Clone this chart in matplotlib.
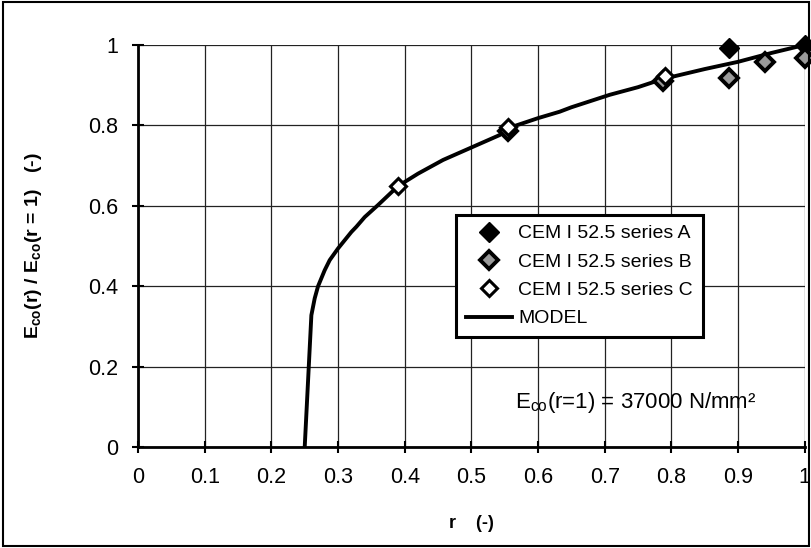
import matplotlib
matplotlib.use("Agg")
import matplotlib.pyplot as plt
from matplotlib.patches import Rectangle

plt.rcParams['font.family'] = ['Liberation Sans', 'DejaVu Sans']
plt.rcParams['mathtext.fontset'] = 'custom'
plt.rcParams['mathtext.rm'] = 'Liberation Sans'
plt.rcParams['mathtext.bf'] = 'Liberation Sans:bold'

# measured stiffness ratios
r_a = [0.887, 1.0]
e_a = [0.993, 1.0]
r_b = [0.555, 0.787, 0.887, 0.94, 1.0]
e_b = [0.785, 0.910, 0.917, 0.958, 0.967]
r_c = [0.39, 0.555, 0.79]
e_c = [0.649, 0.797, 0.922]

# model curve
r_model = [0.25, 0.26, 0.265, 0.27, 0.28, 0.2875, 0.30, 0.32, 0.3275, 0.34, 0.36,
           0.39, 0.42, 0.4575, 0.50, 0.5425, 0.555, 0.60, 0.6325, 0.65, 0.7075,
           0.75, 0.7865, 0.85, 0.90, 0.95, 1.0]
e_model = [0.0, 0.328, 0.37, 0.40, 0.44, 0.465, 0.494, 0.535, 0.548, 0.572, 0.602,
           0.649, 0.68, 0.714, 0.745, 0.776, 0.793, 0.818, 0.834, 0.845, 0.876,
           0.895, 0.915, 0.94, 0.958, 0.98, 1.0]

x_ticks = [0, 0.1, 0.2, 0.3, 0.4, 0.5, 0.6, 0.7, 0.8, 0.9, 1]
x_labels = ['0', '0.1', '0.2', '0.3', '0.4', '0.5', '0.6', '0.7', '0.8', '0.9', '1']
y_ticks = [0, 0.2, 0.4, 0.6, 0.8, 1]
y_labels = ['0', '0.2', '0.4', '0.6', '0.8', '1']

fig = plt.figure(figsize=(8.12, 5.48), dpi=100)
ax = fig.add_axes([0.170, 0.184, 0.821, 0.734])

ax.plot(r_a, e_a, linestyle='none', marker='D', markersize=10, color='black',
        markeredgecolor='black', clip_on=False, zorder=4, label='CEM I 52.5 series A')
ax.plot(r_b, e_b, linestyle='none', marker='D', markersize=9.5, markerfacecolor='#9a9a9a',
        markeredgecolor='black', markeredgewidth=2.8, clip_on=False, zorder=4,
        label='CEM I 52.5 series B')
ax.plot(r_c, e_c, linestyle='none', marker='D', markersize=8, markerfacecolor='white',
        markeredgecolor='black', markeredgewidth=2.2, clip_on=False, zorder=4,
        label='CEM I 52.5 series C')
ax.plot(r_model, e_model, color='black', linewidth=2.8, zorder=3, label='MODEL')

ax.set_xlim(0, 1)
ax.set_ylim(0, 1)
ax.set_xticks(x_ticks)
ax.set_xticklabels(x_labels)
ax.set_yticks(y_ticks)
ax.set_yticklabels(y_labels)
ax.grid(True, color='#222222', linewidth=0.9)
ax.set_axisbelow(True)
ax.tick_params(direction='inout', length=8, width=1.5, labelsize=15.5, pad=10)

for side in ['top', 'right']:
    ax.spines[side].set_visible(False)
for side in ['left', 'bottom']:
    ax.spines[side].set_linewidth(2)

ax.set_xlabel('r    (-)', fontsize=13, fontweight='bold', labelpad=20)
ax.set_ylabel(r'E$_{\mathbf{co}}$(r) / E$_{\mathbf{co}}$(r = 1)   (-)', fontsize=14,
              fontweight='bold', labelpad=32)

ax.text(0.566, 0.11, r'E$_{\rm co}$(r=1) = 37000 N/mm²', fontsize=16,
        transform=ax.transAxes, va='center')

leg = ax.legend(loc='upper left', bbox_to_anchor=(0.477, 0.577), fontsize=14,
                frameon=True, fancybox=False, framealpha=1, borderpad=0.5,
                labelspacing=0.55, handlelength=2.4, handletextpad=0.3, borderaxespad=0)
leg.get_frame().set_edgecolor('black')
leg.get_frame().set_linewidth(2.2)
leg.set_zorder(5)

fig.patches.append(Rectangle((0.004, 0.004), 0.992, 0.992, transform=fig.transFigure,
                             fill=False, edgecolor='black', linewidth=1.5))

fig.savefig('out.png', dpi=100)
